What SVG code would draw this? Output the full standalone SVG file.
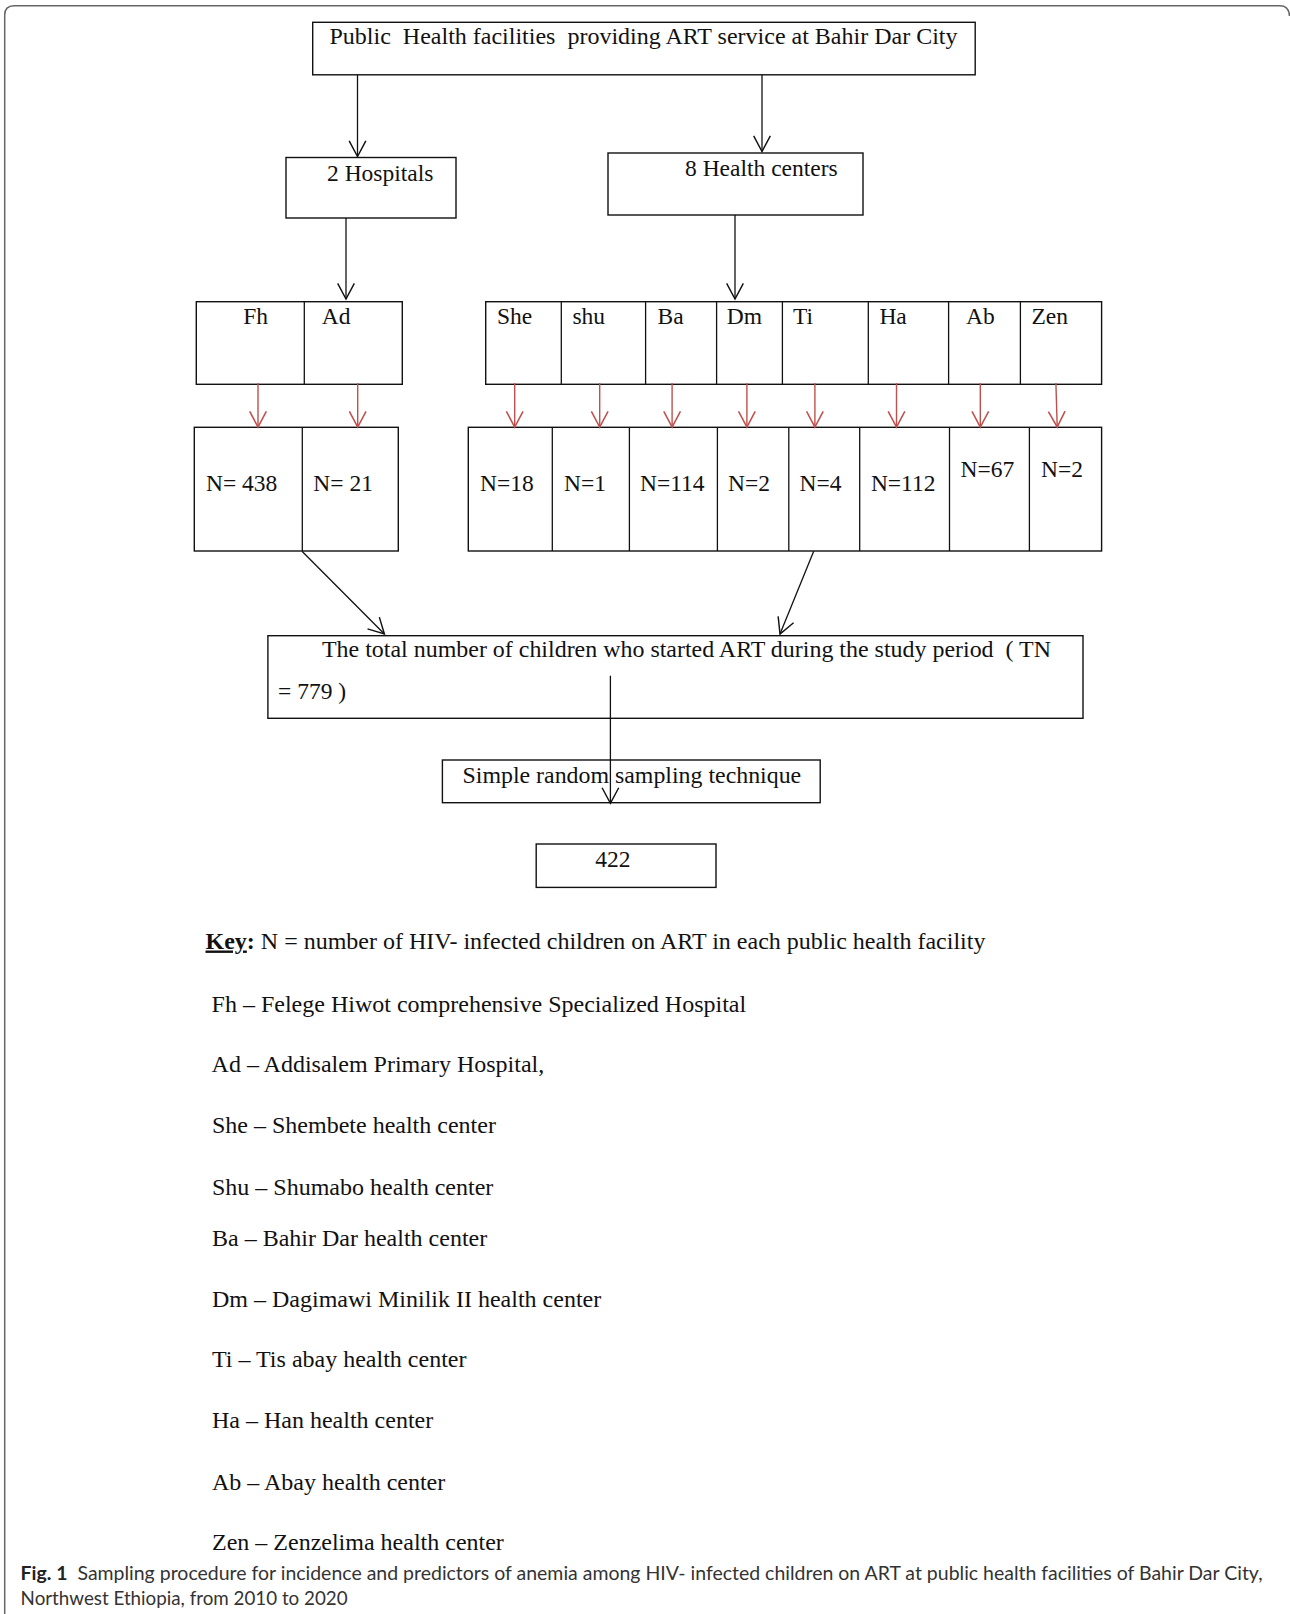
<svg xmlns="http://www.w3.org/2000/svg" width="1290" height="1614" viewBox="0 0 1290 1614">
<defs>
<style>
.t{font-family:"Liberation Serif","Times New Roman",serif;font-size:23.5px;fill:#111}
.lg{font-family:"Liberation Serif","Times New Roman",serif;font-size:24px;fill:#111}
.box{fill:#fff;stroke:#111;stroke-width:1.4}
.ln{stroke:#111;stroke-width:1.3;fill:none}
.blk{stroke:#111;stroke-width:1.3;fill:none;marker-end:url(#ah)}
.red{stroke:#c0504d;stroke-width:1.4;fill:none;marker-end:url(#ahr)}
.cap{font-family:"Lato","Open Sans",sans-serif;font-size:19px;fill:#333}
</style>
<marker id="ah" markerUnits="userSpaceOnUse" markerWidth="20" markerHeight="20" viewBox="-16 -9 18 18" refX="0" refY="0" orient="auto">
<path d="M-14,-7.5 L0,0 L-14,7.5" fill="none" stroke="#111" stroke-width="1.3"/>
</marker>
<marker id="ahr" markerUnits="userSpaceOnUse" markerWidth="20" markerHeight="20" viewBox="-16 -9 18 18" refX="0" refY="0" orient="auto">
<path d="M-14,-7.5 L0,0 L-14,7.5" fill="none" stroke="#c0504d" stroke-width="1.4"/>
</marker>
</defs>
<rect width="1290" height="1614" fill="#fff"/>
<path d="M4.7,1614 V15 Q4.7,5.7 14,5.7 H1280 Q1289,5.7 1289.5,16" fill="none" stroke="#666" stroke-width="1.5"/>

<g id="top">
<rect class="box" x="312.7" y="22.3" width="662.5" height="52.5"/>
<text class="t" x="329.5" y="44" textLength="628" lengthAdjust="spacingAndGlyphs" xml:space="preserve">Public  Health facilities  providing ART service at Bahir Dar City</text>
</g>
<g id="hospitals">
<rect class="box" x="286" y="157.5" width="170" height="60.5"/>
<text class="t" x="327" y="181">2 Hospitals</text>
</g>
<g id="healthcenters">
<rect class="box" x="608" y="153" width="255" height="62"/>
<text class="t" x="685" y="176">8 Health centers</text>
</g>

<g id="hosp-names">
<rect class="box" x="196.3" y="301.7" width="206" height="82.6"/>
<line class="ln" x1="304.3" y1="301.7" x2="304.3" y2="384.3"/>
<text class="t" x="243.3" y="324">Fh</text>
<text class="t" x="321.7" y="324">Ad</text>
</g>
<g id="hc-names">
<rect class="box" x="485.7" y="301.7" width="615.9" height="82.6"/>
<line class="ln" x1="561.3" y1="301.7" x2="561.3" y2="384.3"/>
<line class="ln" x1="645.6" y1="301.7" x2="645.6" y2="384.3"/>
<line class="ln" x1="716.6" y1="301.7" x2="716.6" y2="384.3"/>
<line class="ln" x1="782.4" y1="301.7" x2="782.4" y2="384.3"/>
<line class="ln" x1="868.3" y1="301.7" x2="868.3" y2="384.3"/>
<line class="ln" x1="948.6" y1="301.7" x2="948.6" y2="384.3"/>
<line class="ln" x1="1020.4" y1="301.7" x2="1020.4" y2="384.3"/>
<text class="t" x="497" y="324">She</text>
<text class="t" x="572.4" y="324">shu</text>
<text class="t" x="657.6" y="324">Ba</text>
<text class="t" x="726.8" y="324">Dm</text>
<text class="t" x="793" y="324">Ti</text>
<text class="t" x="879.4" y="324">Ha</text>
<text class="t" x="966" y="324">Ab</text>
<text class="t" x="1031.5" y="324">Zen</text>
</g>

<g id="hosp-counts">
<rect class="box" x="194.3" y="427.3" width="204" height="123.7"/>
<line class="ln" x1="302.3" y1="427.3" x2="302.3" y2="551"/>
<text class="t" x="206" y="490.7" xml:space="preserve">N= 438</text>
<text class="t" x="313.3" y="490.7" xml:space="preserve">N= 21</text>
</g>
<g id="hc-counts">
<rect class="box" x="468.3" y="427.3" width="633.3" height="123.7"/>
<line class="ln" x1="552.3" y1="427.3" x2="552.3" y2="551"/>
<line class="ln" x1="629.4" y1="427.3" x2="629.4" y2="551"/>
<line class="ln" x1="717.4" y1="427.3" x2="717.4" y2="551"/>
<line class="ln" x1="788.8" y1="427.3" x2="788.8" y2="551"/>
<line class="ln" x1="859.7" y1="427.3" x2="859.7" y2="551"/>
<line class="ln" x1="949.5" y1="427.3" x2="949.5" y2="551"/>
<line class="ln" x1="1029.4" y1="427.3" x2="1029.4" y2="551"/>
<text class="t" x="480" y="490.7">N=18</text>
<text class="t" x="564" y="490.7">N=1</text>
<text class="t" x="640" y="490.7">N=114</text>
<text class="t" x="728" y="490.7">N=2</text>
<text class="t" x="799.5" y="490.7">N=4</text>
<text class="t" x="870.9" y="490.7">N=112</text>
<text class="t" x="960.6" y="476.7">N=67</text>
<text class="t" x="1041" y="476.7">N=2</text>
</g>

<g id="total">
<rect class="box" x="267.9" y="635.7" width="815.1" height="82.6"/>
<text class="t" x="322" y="657" textLength="729" lengthAdjust="spacingAndGlyphs" xml:space="preserve">The total number of children who started ART during the study period  ( TN</text>
<text class="t" x="278" y="699">= 779 )</text>
</g>
<g id="srs">
<rect class="box" x="442.4" y="760" width="377.8" height="42.7"/>
<text class="t" x="462.5" y="783" textLength="338.7" lengthAdjust="spacingAndGlyphs">Simple random sampling technique</text>
</g>
<g id="sample">
<rect class="box" x="536.2" y="844" width="179.8" height="43.4"/>
<text class="t" x="595.3" y="867.3">422</text>
</g>

<g id="connectors">
<line class="blk" x1="357.5" y1="75" x2="357.5" y2="156.5"/>
<line class="blk" x1="762" y1="75" x2="762" y2="151.5"/>
<line class="blk" x1="346" y1="218" x2="346" y2="299"/>
<line class="blk" x1="735" y1="215" x2="735" y2="299"/>
<line class="red" x1="258" y1="383" x2="258" y2="427"/>
<line class="red" x1="357.7" y1="383" x2="357.7" y2="427"/>
<line class="red" x1="514.7" y1="383" x2="514.7" y2="427"/>
<line class="red" x1="599.7" y1="383" x2="599.7" y2="427"/>
<line class="red" x1="672.1" y1="383" x2="672.1" y2="427"/>
<line class="red" x1="746.9" y1="383" x2="746.9" y2="427"/>
<line class="red" x1="814.9" y1="383" x2="814.9" y2="427"/>
<line class="red" x1="896.5" y1="383" x2="896.5" y2="427"/>
<line class="red" x1="980.3" y1="383" x2="980.3" y2="427"/>
<line class="red" x1="1055.9" y1="383" x2="1057.2" y2="427"/>
<line class="blk" x1="302" y1="551.3" x2="384.4" y2="634"/>
<line class="blk" x1="813.7" y1="551.3" x2="780" y2="634"/>
<line class="blk" x1="610.4" y1="675.7" x2="610.4" y2="803.3"/>
</g>

<g id="legend">
<text class="lg" x="205.5" y="948.5"><tspan font-weight="bold" text-decoration="underline">Key</tspan><tspan font-weight="bold">:</tspan> N = number of HIV- infected children on ART in each public health facility</text>
<text class="lg" x="211.6" y="1011.7">Fh – Felege Hiwot comprehensive Specialized Hospital</text>
<text class="lg" x="211.6" y="1072.3">Ad – Addisalem Primary Hospital,</text>
<text class="lg" x="212" y="1133.3">She – Shembete health center</text>
<text class="lg" x="212" y="1195">Shu – Shumabo health center</text>
<text class="lg" x="212" y="1246">Ba – Bahir Dar health center</text>
<text class="lg" x="212" y="1306.7">Dm – Dagimawi Minilik II health center</text>
<text class="lg" x="212" y="1366.7">Ti – Tis abay health center</text>
<text class="lg" x="212" y="1428.3">Ha – Han health center</text>
<text class="lg" x="212" y="1490">Ab – Abay health center</text>
<text class="lg" x="212" y="1550">Zen – Zenzelima health center</text>
</g>

<g id="caption">
<text class="cap" x="20.6" y="1580" textLength="1242" lengthAdjust="spacingAndGlyphs" xml:space="preserve"><tspan font-weight="bold" fill="#222">Fig. 1</tspan>  Sampling procedure for incidence and predictors of anemia among HIV- infected children on ART at public health facilities of Bahir Dar City,</text>
<text class="cap" x="20.6" y="1605" textLength="327" lengthAdjust="spacingAndGlyphs">Northwest Ethiopia, from 2010 to 2020</text>
</g>
</svg>
